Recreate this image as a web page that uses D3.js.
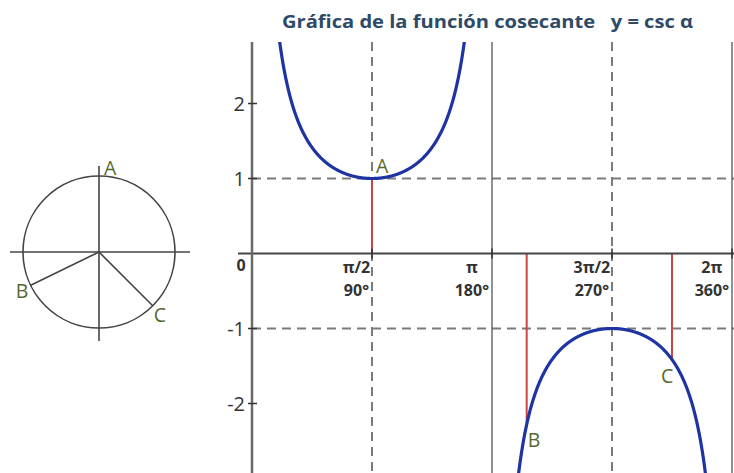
<!DOCTYPE html>
<html>
<head>
<meta charset="utf-8">
<script src="https://cdn.jsdelivr.net/npm/d3@7"></script>
<style>
  html, body { margin: 0; padding: 0; background: #fff; }
  svg { display: block; }
</style>
</head>
<body>
<svg id="chart" width="734" height="473"></svg>
<script>
// Tick values and labels
const xTickDegrees = [90, 180, 270, 360];
const xTickRad = ["π/2", "π", "3π/2", "2π"];
const xTickDeg = ["90°", "180°", "270°", "360°"];
const yTicks = [-2, -1, 1, 2];
const dashedY = [-1, 1];
const dashedX = [90, 270];
const solidX = [180, 360];

// Marked points on the circle and on the graph
const pointNames = ["A", "B", "C"];
const pointDegrees = [90, 206, 315];

const titleText = "Gráfica de la función cosecante   y = csc α";

const svg = d3.select("#chart");
const W = 734, H = 473;
const plotTop = 42;

const x = d3.scaleLinear().domain([0, 360]).range([252, 732]);
const y = d3.scaleLinear().domain([-1, 1]).range([328.5, 178.5]);

const csc = d => 1 / Math.sin(d * Math.PI / 180);

// clip for the curve
svg.append("defs").append("clipPath").attr("id", "plotClip")
  .append("rect").attr("x", 200).attr("y", plotTop).attr("width", W - 200).attr("height", H - plotTop);

// Title
svg.append("text")
  .attr("x", 282).attr("y", 28)
  .attr("textLength", 411).attr("lengthAdjust", "spacingAndGlyphs")
  .style("white-space", "pre")
  .attr("font-family", "'Open Sans', sans-serif")
  .attr("font-weight", "bold").attr("font-size", 17.5)
  .attr("fill", "#2e4a66")
  .text(titleText);

// Dashed guide lines
svg.selectAll(".dashH").data(dashedY).join("line")
  .attr("x1", x(0)).attr("x2", W)
  .attr("y1", d => y(d)).attr("y2", d => y(d))
  .attr("stroke", "#7a7a7a").attr("stroke-width", 2).attr("stroke-dasharray", "9,6");
svg.selectAll(".dashV").data(dashedX).join("line")
  .attr("x1", d => x(d)).attr("x2", d => x(d))
  .attr("y1", plotTop).attr("y2", H)
  .attr("stroke", "#7a7a7a").attr("stroke-width", 2).attr("stroke-dasharray", "9,6");

// Solid vertical asymptote lines
svg.selectAll(".solidV").data(solidX).join("line")
  .attr("x1", d => x(d)).attr("x2", d => x(d))
  .attr("y1", plotTop).attr("y2", H)
  .attr("stroke", "#555").attr("stroke-width", 1.3);

// Red projection segments from the axis to each point
svg.selectAll(".proj").data(pointDegrees).join("line")
  .attr("x1", d => x(d)).attr("x2", d => x(d))
  .attr("y1", y(0)).attr("y2", d => y(csc(d)))
  .attr("stroke", "#c8464a").attr("stroke-width", 2);

// Axes
svg.append("line").attr("x1", 238).attr("x2", W).attr("y1", y(0)).attr("y2", y(0))
  .attr("stroke", "#444").attr("stroke-width", 2);
svg.append("line").attr("x1", x(0)).attr("x2", x(0)).attr("y1", plotTop).attr("y2", H)
  .attr("stroke", "#6a6a6a").attr("stroke-width", 2.5);

// Tick marks
svg.selectAll(".ytick").data(yTicks).join("line")
  .attr("x1", x(0) - 4).attr("x2", x(0) + 5)
  .attr("y1", d => y(d)).attr("y2", d => y(d))
  .attr("stroke", "#333").attr("stroke-width", 1.5);
svg.selectAll(".xtick").data(xTickDegrees).join("line")
  .attr("x1", d => x(d)).attr("x2", d => x(d))
  .attr("y1", y(0) - 5).attr("y2", y(0) + 5)
  .attr("stroke", "#333").attr("stroke-width", 1.5);

// Y tick labels
svg.selectAll(".ylab").data(yTicks).join("text")
  .attr("x", 245).attr("y", d => y(d) + 2)
  .attr("dominant-baseline", "middle").attr("text-anchor", "end")
  .attr("font-family", "'Open Sans', sans-serif").attr("font-size", 20)
  .attr("fill", "#333")
  .text(d => d);

// X tick labels
const lblFont = { family: "'Open Sans', sans-serif", size: 16 };
svg.append("text").attr("x", 241).attr("y", 271)
  .attr("text-anchor", "middle")
  .attr("font-family", lblFont.family).attr("font-weight", "bold").attr("font-size", lblFont.size)
  .attr("fill", "#333").text("0");

const degLabels = svg.selectAll(".xdeg").data(xTickDegrees).join("text")
  .attr("x", d => x(d) - 3).attr("y", 296)
  .attr("text-anchor", "end")
  .attr("font-family", lblFont.family).attr("font-weight", "bold").attr("font-size", lblFont.size)
  .attr("fill", "#333")
  .text((d, i) => xTickDeg[i]);
const degWidths = degLabels.nodes().map(n => n.getComputedTextLength());
svg.selectAll(".xrad").data(xTickDegrees).join("text")
  .attr("x", (d, i) => x(d) - 3 - degWidths[i] / 2).attr("y", 273)
  .attr("text-anchor", "middle")
  .attr("font-family", lblFont.family).attr("font-weight", "bold").attr("font-size", lblFont.size)
  .attr("fill", "#333")
  .text((d, i) => xTickRad[i]);

// Cosecant curve, one branch per half period
const branches = [[0.2, 179.8], [180.2, 359.8]].map(([a, b]) => d3.range(a, b + 0.01, 0.2));
const line = d3.line().x(d => x(d)).y(d => y(Math.max(-6, Math.min(6, csc(d)))));
svg.append("g").attr("clip-path", "url(#plotClip)")
  .selectAll("path").data(branches).join("path")
  .attr("d", line)
  .attr("fill", "none").attr("stroke", "#1f33a3").attr("stroke-width", 3.2);

// Point labels on the graph
const graphLabelOffset = { A: [4, -6], B: [1, 22], C: [-11, 23] };
svg.selectAll(".plab").data(pointDegrees).join("text")
  .attr("x", (d, i) => x(d) + graphLabelOffset[pointNames[i]][0])
  .attr("y", (d, i) => y(csc(d)) + graphLabelOffset[pointNames[i]][1])
  .attr("font-family", "'Open Sans', sans-serif").attr("font-size", 19.5)
  .attr("fill", "#55692f")
  .text((d, i) => pointNames[i]);

// Unit circle
const cx = 99, cy = 252, r = 76;
const u = d3.scaleLinear().domain([-1, 1]).range([cx - r, cx + r]);
const v = d3.scaleLinear().domain([-1, 1]).range([cy + r, cy - r]);
const circ = svg.append("g");
circ.append("circle").attr("cx", u(0)).attr("cy", v(0)).attr("r", r)
  .attr("fill", "none").attr("stroke", "#444").attr("stroke-width", 1.6);
circ.append("line").attr("x1", 10).attr("x2", 190).attr("y1", v(0)).attr("y2", v(0))
  .attr("stroke", "#444").attr("stroke-width", 1.6);
circ.append("line").attr("x1", u(0)).attr("x2", u(0)).attr("y1", 166).attr("y2", 341)
  .attr("stroke", "#444").attr("stroke-width", 1.6);
circ.selectAll(".radius").data(pointDegrees.filter(d => d !== 90)).join("line")
  .attr("x1", u(0)).attr("y1", v(0))
  .attr("x2", d => u(Math.cos(d * Math.PI / 180)))
  .attr("y2", d => v(Math.sin(d * Math.PI / 180)))
  .attr("stroke", "#444").attr("stroke-width", 1.6);
const circleLabelOffset = { A: [5, -1], B: [-15, 13], C: [1, 16] };
circ.selectAll(".clab").data(pointDegrees).join("text")
  .attr("x", (d, i) => u(Math.cos(d * Math.PI / 180)) + circleLabelOffset[pointNames[i]][0])
  .attr("y", (d, i) => v(Math.sin(d * Math.PI / 180)) + circleLabelOffset[pointNames[i]][1])
  .attr("font-family", "'Open Sans', sans-serif").attr("font-size", 19.5)
  .attr("fill", "#55692f")
  .text((d, i) => pointNames[i]);
</script>
</body>
</html>
